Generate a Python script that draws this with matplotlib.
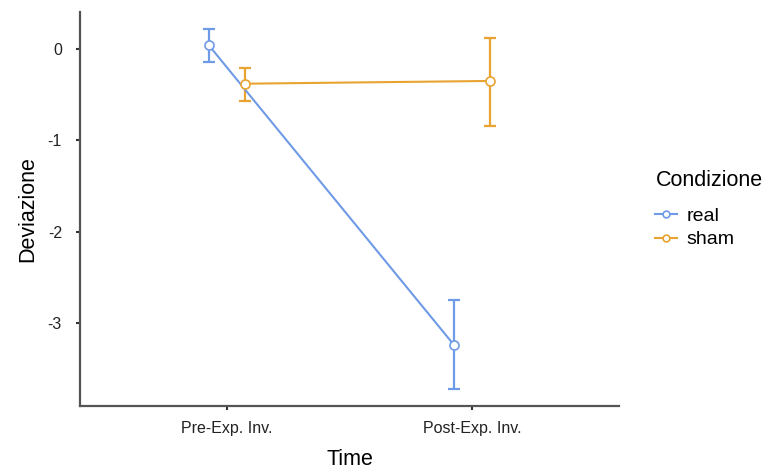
import matplotlib
matplotlib.use("Agg")
import matplotlib.pyplot as plt

# ── Data ───────────────────────────────────────────────────────────────
times = ["Pre-Exp. Inv.", "Post-Exp. Inv."]
groups = ["real", "sham"]
means = {"real": [0.04, -3.24], "sham": [-0.38, -0.35]}
lower = {"real": [-0.14, -3.72], "sham": [-0.57, -0.84]}
upper = {"real": [0.22, -2.75], "sham": [-0.21, 0.12]}
colors = {"real": "#6f9ae6", "sham": "#e8a331"}
dodge = {"real": -0.074, "sham": 0.074}

plt.rcParams["font.family"] = ["Liberation Sans", "DejaVu Sans"]

fig = plt.figure(figsize=(7.73, 4.73), dpi=100)
ax = fig.add_axes([0.1035, 0.1416, 0.6973, 0.833])

for g in groups:
    xs = [i + 1 + dodge[g] for i in range(len(times))]
    ys = means[g]
    err = [[m - lo for m, lo in zip(ys, lower[g])],
           [hi - m for m, hi in zip(ys, upper[g])]]
    ax.errorbar(xs, ys, yerr=err, fmt="none", ecolor=colors[g],
                elinewidth=1.6, capsize=4.5, capthick=1.6, zorder=2)
    ax.plot(xs, ys, color=colors[g], lw=1.5, marker="o", ms=6.5,
            mfc="white", mec=colors[g], mew=1.2, label=g, zorder=3)

ax.set_xlim(0.4, 2.6)
ax.set_ylim(-3.91, 0.405)
ax.set_xticks([1, 2])
ax.set_xticklabels(times, fontsize=11.5)
ax.set_yticks([0, -1, -2, -3])
ax.set_yticklabels(["0", "-1", "-2", "-3"], fontsize=11.5)
ax.set_xlabel("Time", fontsize=15.5, labelpad=9)
ax.set_ylabel("Deviazione", fontsize=15.5, labelpad=7)

for s in ["top", "right"]:
    ax.spines[s].set_visible(False)
for s in ["left", "bottom"]:
    ax.spines[s].set_color("#555555")
    ax.spines[s].set_linewidth(1.6)
ax.tick_params(axis="both", colors="#333333", length=3, width=1.5,
               labelcolor="#222222")
ax.tick_params(axis="x", pad=8)
ax.tick_params(axis="y", pad=10)

leg = ax.legend(title="Condizione", loc="center left",
                bbox_to_anchor=(1.035, 0.5), frameon=False,
                fontsize=14, title_fontsize=15.5, handlelength=1.1,
                handletextpad=0.5, labelspacing=0.3, markerscale=0.75)
leg._legend_box.align = "left"
leg._legend_box.sep = 12

fig.savefig("out.png", dpi=100)
